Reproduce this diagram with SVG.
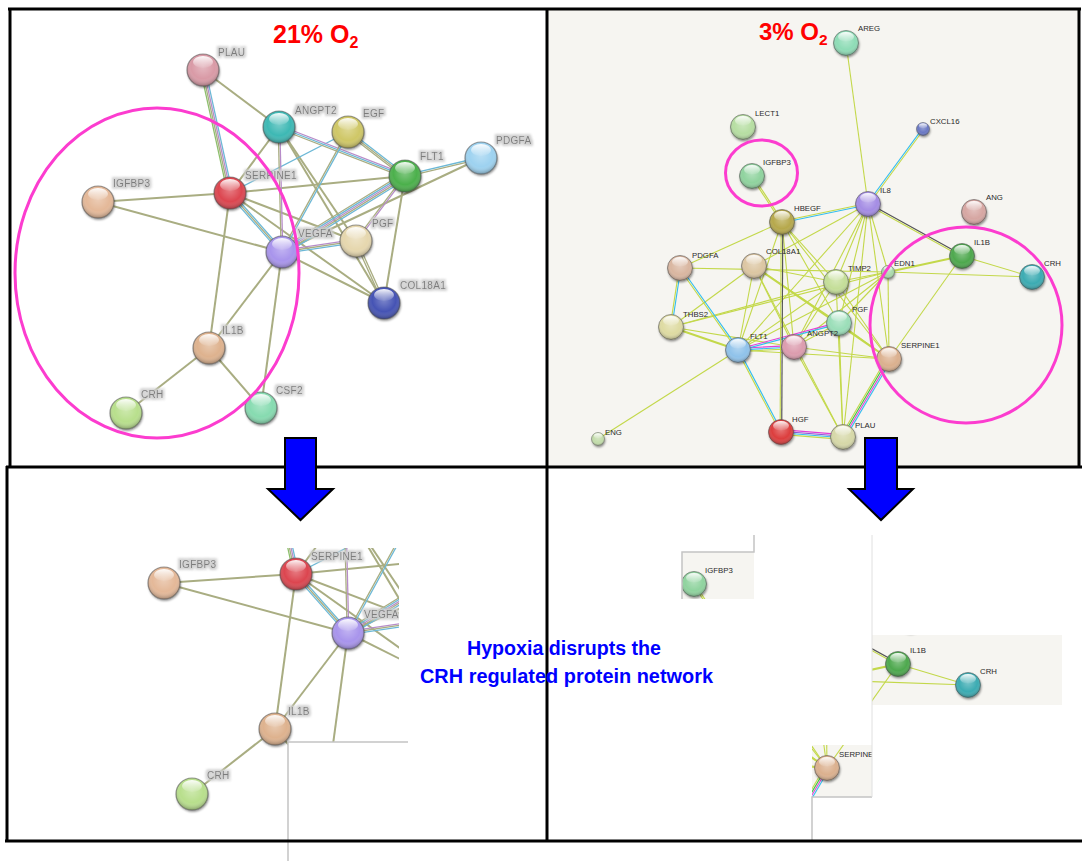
<svg xmlns="http://www.w3.org/2000/svg" xmlns:xlink="http://www.w3.org/1999/xlink" width="1082" height="861" viewBox="0 0 1082 861">
<style>
  .eo{stroke:#a9ad82;stroke-width:2;fill:none}
  .o{stroke:#a9ad82;stroke-width:1.3}
  .b{stroke:#6cb8d6;stroke-width:1.3}
  .p{stroke:#b78cc9;stroke-width:1.3}
  .g{stroke:#8dbf6c;stroke-width:1.3}
  .ry{stroke:#c3d84a;stroke-width:1.1;fill:none}
  .y{stroke:#c3d84a;stroke-width:1.1}
  .rb{stroke:#33bdf0;stroke-width:1.1}
  .rp{stroke:#e23ed8;stroke-width:1.1}
  .rv{stroke:#8e52d6;stroke-width:1.1}
  .rg{stroke:#3cc43c;stroke-width:1.1}
  .rk{stroke:#555;stroke-width:1.2}
  .ball{filter:url(#sh)}
  .ll{font-family:"Liberation Sans",Arial,sans-serif;font-size:10px;fill:#7c7c7c;letter-spacing:0.3px;filter:url(#halo)}
  .rl{font-family:"Liberation Sans",Arial,sans-serif;font-size:7.8px;fill:#2a2a2a}
  .ring{fill:none;stroke:#fc3ccf;stroke-width:3}
  .frame{stroke:#000;stroke-width:3;fill:none}
  .title{font-family:"Liberation Sans",Arial,sans-serif;font-weight:bold;fill:#ff0000}
  .msg{font-family:"Liberation Sans",Arial,sans-serif;font-weight:bold;font-size:20px;fill:#0000ff}
  .arrow{fill:#0000ff;stroke:#000;stroke-width:2}
  .crop{stroke:#c4c4c4;stroke-width:1.5;fill:none}
</style>
<defs>
  <filter id="sh" x="-40%" y="-40%" width="180%" height="180%">
    <feDropShadow dx="0.8" dy="1.8" stdDeviation="1.2" flood-color="#000" flood-opacity="0.45"/>
  </filter>
  <filter id="halo" x="-15%" y="-60%" width="130%" height="220%">
    <feMorphology in="SourceAlpha" operator="dilate" radius="1.6" result="d"/>
    <feGaussianBlur in="d" stdDeviation="1.3" result="bl"/>
    <feFlood flood-color="#cfcfcf"/>
    <feComposite in2="bl" operator="in" result="gl"/>
    <feMerge><feMergeNode in="gl"/><feMergeNode in="SourceGraphic"/></feMerge>
  </filter>
  <radialGradient id="shade" cx="0.5" cy="0.4" r="0.62">
    <stop offset="0" stop-color="#fff" stop-opacity="0.3"/>
    <stop offset="0.6" stop-color="#fff" stop-opacity="0"/>
    <stop offset="1" stop-color="#000" stop-opacity="0.35"/>
  </radialGradient>
  <linearGradient id="hi" x1="0" y1="0" x2="0" y2="1">
    <stop offset="0" stop-color="#fff" stop-opacity="0.95"/>
    <stop offset="1" stop-color="#fff" stop-opacity="0.05"/>
  </linearGradient>
  <!-- glossy sphere overlays -->
  <g id="g16"><circle r="16" fill="url(#shade)" stroke="#4a4a4a" stroke-opacity="0.55" stroke-width="1.2"/><ellipse cy="-8" rx="10" ry="6" fill="url(#hi)"/></g>
  <g id="g13"><circle r="12.5" fill="url(#shade)" stroke="#4a4a4a" stroke-opacity="0.55" stroke-width="1"/><ellipse cy="-6.2" rx="8" ry="4.8" fill="url(#hi)"/></g>
  <g id="g7"><circle r="6.5" fill="url(#shade)" stroke="#4a4a4a" stroke-opacity="0.55" stroke-width="0.8"/><ellipse cy="-3.2" rx="4.2" ry="2.5" fill="url(#hi)"/></g>
  <clipPath id="clipBL"><path d="M10,548 H399 V742 H288 V840 H10 Z"/></clipPath>
  <clipPath id="clipR1"><rect x="682" y="552" width="72" height="47"/></clipPath>
  <clipPath id="clipR2"><rect x="872" y="635" width="190" height="70"/></clipPath>
  <clipPath id="clipR3"><rect x="812" y="745" width="60" height="52"/></clipPath>
</defs>

<rect width="1082" height="861" fill="#fff"/>
<!-- hypoxic panel background -->
<rect x="548" y="9" width="531" height="458" fill="#f6f5f1"/>

<!-- ===== normoxia network ===== -->
<g id="netL">
  <g id="edgesL">
    <line class="eo" x1="203" y1="70" x2="279" y2="127"/>
    <line class="eo" x1="279" y1="127" x2="230" y2="193"/>
    <line class="eo" x1="279" y1="127" x2="356" y2="241"/>
    <line class="eo" x1="279" y1="127" x2="384" y2="303"/>
    <line class="eo" x1="230" y1="193" x2="405" y2="176"/>
    <line class="eo" x1="230" y1="193" x2="98" y2="202"/>
    <line class="eo" x1="230" y1="193" x2="209" y2="348"/>
    <line class="eo" x1="230" y1="193" x2="356" y2="241"/>
    <line class="eo" x1="230" y1="193" x2="384" y2="303"/>
    <line class="eo" x1="98" y1="202" x2="282" y2="252"/>
    <line class="eo" x1="282" y1="252" x2="384" y2="303"/>
    <line class="eo" x1="282" y1="252" x2="209" y2="348"/>
    <line class="eo" x1="282" y1="252" x2="261" y2="408"/>
    <line class="eo" x1="209" y1="348" x2="126" y2="413"/>
    <line class="eo" x1="209" y1="348" x2="261" y2="408"/>
    <line class="eo" x1="405" y1="176" x2="384" y2="303"/>
    <line class="eo" x1="481" y1="158" x2="282" y2="252"/>
    <line class="b" x1="348" y1="132" x2="230" y2="193"/>
    <!-- multi-evidence bundles -->
    <g transform="translate(203 70) rotate(77.62)"><line class="b" x2="126" y1="-2.4" y2="-2.4"/><line class="p" x2="126" y1="-0.8" y2="-0.8"/><line class="o" x2="126" y1="0.8" y2="0.8"/><line class="g" x2="126" y1="2.4" y2="2.4"/></g>
    <g transform="translate(279 127) rotate(21.25)"><line class="p" x2="135" y1="-1.6" y2="-1.6"/><line class="b" x2="135"/><line class="o" x2="135" y1="1.6" y2="1.6"/></g>
    <g transform="translate(279 127) rotate(88.63)"><line class="p" x2="125" y1="-0.8" y2="-0.8"/><line class="o" x2="125" y1="0.8" y2="0.8"/></g>
    <g transform="translate(348 132) rotate(37.67)"><line class="b" x2="72" y1="-1.6" y2="-1.6"/><line class="o" x2="72"/><line class="o" x2="72" y1="1.6" y2="1.6"/></g>
    <g transform="translate(405 176) rotate(148.3)"><line class="b" x2="145" y1="-3.2" y2="-3.2"/><line class="o" x2="145" y1="-1.6" y2="-1.6"/><line class="p" x2="145"/><line class="b" x2="145" y1="1.6" y2="1.6"/><line class="o" x2="145" y1="3.2" y2="3.2"/></g>
    <g transform="translate(405 176) rotate(-13.32)"><line class="b" x2="78" y1="-0.8" y2="-0.8"/><line class="o" x2="78" y1="0.8" y2="0.8"/></g>
    <g transform="translate(230 193) rotate(48.6)"><line class="b" x2="79" y1="-1.6" y2="-1.6"/><line class="o" x2="79"/><line class="b" x2="79" y1="1.6" y2="1.6"/></g>
    <g transform="translate(282 252) rotate(-8.45)"><line class="p" x2="75" y1="-1.6" y2="-1.6"/><line class="o" x2="75"/><line class="b" x2="75" y1="1.6" y2="1.6"/></g>
    <g transform="translate(405 176) rotate(127)"><line class="p" x2="81" y1="-0.8" y2="-0.8"/><line class="o" x2="81" y1="0.8" y2="0.8"/></g>
    <g transform="translate(356 241) rotate(65.7)"><line class="o" x2="68" y1="-1" y2="-1"/><line class="o" x2="68" y1="1" y2="1"/></g>
    <g transform="translate(348 132) rotate(118.8)"><line class="b" x2="137" y1="-0.8" y2="-0.8"/><line class="o" x2="137" y1="0.8" y2="0.8"/></g>
  </g>
  <g id="nodesL">
    <g id="nL-PLAU"><circle class="ball" cx="203" cy="70" r="16" fill="#d99aa6"/><use href="#g16" x="203" y="70"/><text class="ll" x="218" y="56">PLAU</text></g>
    <g id="nL-ANGPT2"><circle class="ball" cx="279" cy="127" r="16" fill="#3db8b4"/><use href="#g16" x="279" y="127"/><text class="ll" x="295" y="114">ANGPT2</text></g>
    <g id="nL-EGF"><circle class="ball" cx="348" cy="132" r="16" fill="#cfc766"/><use href="#g16" x="348" y="132"/><text class="ll" x="363" y="117">EGF</text></g>
    <g id="nL-PDGFA"><circle class="ball" cx="481" cy="158" r="16" fill="#9dd2f0"/><use href="#g16" x="481" y="158"/><text class="ll" x="496" y="144">PDGFA</text></g>
    <g id="nL-FLT1"><circle class="ball" cx="405" cy="176" r="16" fill="#4cb04c"/><use href="#g16" x="405" y="176"/><text class="ll" x="420" y="160">FLT1</text></g>
    <g id="nL-SERPINE1"><circle class="ball" cx="230" cy="193" r="16" fill="#dc4450"/><use href="#g16" x="230" y="193"/><text class="ll" x="245" y="179">SERPINE1</text></g>
    <g id="nL-IGFBP3"><circle class="ball" cx="98" cy="202" r="16" fill="#e4b898"/><use href="#g16" x="98" y="202"/><text class="ll" x="113" y="187">IGFBP3</text></g>
    <g id="nL-VEGFA"><circle class="ball" cx="282" cy="252" r="16" fill="#a894ec"/><use href="#g16" x="282" y="252"/><text class="ll" x="298" y="237">VEGFA</text></g>
    <g id="nL-PGF"><circle class="ball" cx="356" cy="241" r="16" fill="#e6d7ae"/><use href="#g16" x="356" y="241"/><text class="ll" x="372" y="227">PGF</text></g>
    <g id="nL-COL18A1"><circle class="ball" cx="384" cy="303" r="16" fill="#4453b4"/><use href="#g16" x="384" y="303"/><text class="ll" x="400" y="289">COL18A1</text></g>
    <g id="nL-IL1B"><circle class="ball" cx="209" cy="348" r="16" fill="#deb28e"/><use href="#g16" x="209" y="348"/><text class="ll" x="222" y="334">IL1B</text></g>
    <g id="nL-CRH"><circle class="ball" cx="126" cy="413" r="16" fill="#b8df8c"/><use href="#g16" x="126" y="413"/><text class="ll" x="141" y="398">CRH</text></g>
    <g id="nL-CSF2"><circle class="ball" cx="261" cy="408" r="16" fill="#86dbb0"/><use href="#g16" x="261" y="408"/><text class="ll" x="276" y="394">CSF2</text></g>
  </g>
</g>

<!-- ===== hypoxia network ===== -->
<g id="netR">
  <g id="edgesR">
    <line class="y" x1="846" y1="43" x2="868" y2="204"/>
    <line class="y" x1="868" y1="204" x2="836" y2="282"/>
    <line class="y" x1="868" y1="204" x2="839" y2="323"/>
    <line class="y" x1="868" y1="204" x2="794" y2="347"/>
    <line class="y" x1="868" y1="204" x2="738" y2="350"/>
    <line class="y" x1="868" y1="204" x2="889" y2="359"/>
    <line class="y" x1="868" y1="204" x2="888" y2="272"/>
    <line class="y" x1="868" y1="204" x2="843" y2="437"/>
    <line class="y" x1="868" y1="204" x2="754" y2="266"/>
    <line class="y" x1="782" y1="222" x2="680" y2="268"/>
    <line class="y" x1="782" y1="222" x2="836" y2="282"/>
    <line class="y" x1="782" y1="222" x2="839" y2="323"/>
    <line class="y" x1="782" y1="222" x2="794" y2="347"/>
    <line class="y" x1="782" y1="222" x2="738" y2="350"/>
    <line class="y" x1="782" y1="222" x2="889" y2="359"/>
    <line class="y" x1="680" y1="268" x2="888" y2="272"/>
    <line class="y" x1="754" y1="266" x2="836" y2="282"/>
    <line class="y" x1="754" y1="266" x2="738" y2="350"/>
    <line class="y" x1="754" y1="266" x2="794" y2="347"/>
    <line class="y" x1="754" y1="266" x2="839" y2="323"/>
    <line class="y" x1="754" y1="266" x2="889" y2="359" style="stroke-width:2"/>
    <line class="y" x1="754" y1="266" x2="671" y2="327"/>
    <line class="y" x1="754" y1="266" x2="843" y2="437"/>
    <line class="y" x1="836" y1="282" x2="888" y2="272"/>
    <line class="y" x1="836" y1="282" x2="738" y2="350"/>
    <line class="y" x1="836" y1="282" x2="794" y2="347"/>
    <line class="y" x1="836" y1="282" x2="671" y2="327"/>
    <line class="y" x1="836" y1="282" x2="889" y2="359"/>
    <line class="y" x1="836" y1="282" x2="843" y2="437"/>
    <line class="y" x1="888" y1="272" x2="962" y2="256" style="stroke-width:2"/>
    <line class="y" x1="888" y1="272" x2="1032" y2="277"/>
    <line class="y" x1="888" y1="272" x2="889" y2="359"/>
    <line class="y" x1="888" y1="272" x2="738" y2="350"/>
    <line class="y" x1="888" y1="272" x2="794" y2="347"/>
    <line class="y" x1="888" y1="272" x2="839" y2="323"/>
    <line class="y" x1="888" y1="272" x2="671" y2="327"/>
    <line class="y" x1="962" y1="256" x2="1032" y2="277"/>
    <line class="y" x1="962" y1="256" x2="889" y2="359"/>
    <line class="y" x1="839" y1="323" x2="889" y2="359"/>
    <line class="y" x1="839" y1="323" x2="843" y2="437"/>
    <line class="y" x1="839" y1="323" x2="794" y2="347"/>
    <line class="y" x1="794" y1="347" x2="889" y2="359"/>
    <line class="y" x1="794" y1="347" x2="843" y2="437"/>
    <line class="y" x1="738" y1="350" x2="889" y2="359"/>
    <line class="y" x1="738" y1="350" x2="598" y2="439"/>
    <line class="y" x1="738" y1="350" x2="671" y2="327" style="stroke-width:2"/>
    <line class="y" x1="671" y1="327" x2="794" y2="347"/>
    <!-- multi-evidence bundles -->
    <g transform="translate(889 359) rotate(120.5)"><line class="rb" x2="91" y1="-2.4" y2="-2.4"/><line class="rp" x2="91" y1="-0.8" y2="-0.8"/><line class="rg" x2="91" y1="0.8" y2="0.8"/><line class="y" x2="91" y1="2.4" y2="2.4"/></g>
    <g transform="translate(781 432) rotate(4.6)"><line class="rp" x2="62" y1="-2.4" y2="-2.4"/><line class="rv" x2="62" y1="-0.8" y2="-0.8"/><line class="rb" x2="62" y1="0.8" y2="0.8"/><line class="y" x2="62" y1="2.4" y2="2.4"/></g>
    <g transform="translate(738 350) rotate(-3.07)"><line class="rp" x2="56" y1="-1.6" y2="-1.6"/><line class="rb" x2="56"/><line class="y" x2="56" y1="1.6" y2="1.6"/></g>
    <g transform="translate(738 350) rotate(-14.97)"><line class="rp" x2="105" y1="-0.8" y2="-0.8"/><line class="rb" x2="105" y1="0.8" y2="0.8"/></g>
    <g transform="translate(738 350) rotate(62.3)"><line class="rb" x2="93" y1="-0.8" y2="-0.8"/><line class="y" x2="93" y1="0.8" y2="0.8"/></g>
    <g transform="translate(680 268) rotate(54.7)"><line class="rb" x2="100" y1="-0.8" y2="-0.8"/><line class="y" x2="100" y1="0.8" y2="0.8"/></g>
    <g transform="translate(680 268) rotate(98.7)"><line class="rb" x2="60" y1="-0.8" y2="-0.8"/><line class="y" x2="60" y1="0.8" y2="0.8"/></g>
    <g transform="translate(782 222) rotate(90.3)"><line class="rk" x2="210" y1="-0.8" y2="-0.8"/><line class="y" x2="210" y1="0.8" y2="0.8"/></g>
    <g transform="translate(868 204) rotate(168.2)"><line class="rb" x2="88" y1="-0.8" y2="-0.8"/><line class="y" x2="88" y1="0.8" y2="0.8"/></g>
    <g transform="translate(868 204) rotate(28.95)"><line class="rk" x2="107" y1="-0.8" y2="-0.8"/><line class="y" x2="107" y1="0.8" y2="0.8"/></g>
    <g transform="translate(868 204) rotate(-53.7)"><line class="rb" x2="93" y1="-0.8" y2="-0.8"/><line class="y" x2="93" y1="0.8" y2="0.8"/></g>
    <g transform="translate(752 176) rotate(56.9)"><line class="y" x2="55" y1="-0.8" y2="-0.8"/><line class="y" x2="55" y1="0.8" y2="0.8"/></g>
  </g>
  <g id="nodesR">
    <g id="nR-AREG"><circle class="ball" cx="846" cy="43" r="12.5" fill="#8edcb6"/><use href="#g13" x="846" y="43"/><text class="rl" x="858" y="31">AREG</text></g>
    <g id="nR-LECT1"><circle class="ball" cx="743" cy="127" r="12.5" fill="#b6dea2"/><use href="#g13" x="743" y="127"/><text class="rl" x="755" y="116">LECT1</text></g>
    <g id="nR-IGFBP3"><circle class="ball" cx="752" cy="176" r="12.5" fill="#8fd39e"/><use href="#g13" x="752" y="176"/><text class="rl" x="763" y="165">IGFBP3</text></g>
    <g id="nR-CXCL16"><circle class="ball" cx="923" cy="129" r="6.5" fill="#6a78c4"/><use href="#g7" x="923" y="129"/><text class="rl" x="930" y="124">CXCL16</text></g>
    <g id="nR-IL8"><circle class="ball" cx="868" cy="204" r="12.5" fill="#a48ce4"/><use href="#g13" x="868" y="204"/><text class="rl" x="880" y="193">IL8</text></g>
    <g id="nR-ANG"><circle class="ball" cx="974" cy="212" r="12.5" fill="#d6a6a2"/><use href="#g13" x="974" y="212"/><text class="rl" x="986" y="200">ANG</text></g>
    <g id="nR-HBEGF"><circle class="ball" cx="782" cy="222" r="12.5" fill="#b6a84c"/><use href="#g13" x="782" y="222"/><text class="rl" x="794" y="211">HBEGF</text></g>
    <g id="nR-IL1B"><circle class="ball" cx="962" cy="256" r="12.5" fill="#4ea84e"/><use href="#g13" x="962" y="256"/><text class="rl" x="974" y="245">IL1B</text></g>
    <g id="nR-CRH"><circle class="ball" cx="1032" cy="277" r="12.5" fill="#3aabb2"/><use href="#g13" x="1032" y="277"/><text class="rl" x="1044" y="266">CRH</text></g>
    <g id="nR-PDGFA"><circle class="ball" cx="680" cy="268" r="12.5" fill="#d9b6a0"/><use href="#g13" x="680" y="268"/><text class="rl" x="692" y="258">PDGFA</text></g>
    <g id="nR-COL18A1"><circle class="ball" cx="754" cy="266" r="12.5" fill="#dcc6a2"/><use href="#g13" x="754" y="266"/><text class="rl" x="766" y="254">COL18A1</text></g>
    <g id="nR-TIMP2"><circle class="ball" cx="836" cy="282" r="12.5" fill="#c4de98"/><use href="#g13" x="836" y="282"/><text class="rl" x="848" y="271">TIMP2</text></g>
    <g id="nR-EDN1"><circle class="ball" cx="888" cy="272" r="6.5" fill="#a9d9ab"/><use href="#g7" x="888" y="272"/><text class="rl" x="894" y="266">EDN1</text></g>
    <g id="nR-THBS2"><circle class="ball" cx="671" cy="327" r="12.5" fill="#dedba2"/><use href="#g13" x="671" y="327"/><text class="rl" x="683" y="317">THBS2</text></g>
    <g id="nR-PGF"><circle class="ball" cx="839" cy="323" r="12.5" fill="#9adeb8"/><use href="#g13" x="839" y="323"/><text class="rl" x="852" y="312">PGF</text></g>
    <g id="nR-FLT1"><circle class="ball" cx="738" cy="350" r="12.5" fill="#8fc2ea"/><use href="#g13" x="738" y="350"/><text class="rl" x="750" y="339">FLT1</text></g>
    <g id="nR-ANGPT2"><circle class="ball" cx="794" cy="347" r="12.5" fill="#dc9cae"/><use href="#g13" x="794" y="347"/><text class="rl" x="807" y="336">ANGPT2</text></g>
    <g id="nR-SERPINE1"><circle class="ball" cx="889" cy="359" r="12.5" fill="#dbb08e"/><use href="#g13" x="889" y="359"/><text class="rl" x="901" y="348">SERPINE1</text></g>
    <g id="nR-HGF"><circle class="ball" cx="781" cy="432" r="12.5" fill="#dc3c3c"/><use href="#g13" x="781" y="432"/><text class="rl" x="792" y="422">HGF</text></g>
    <g id="nR-PLAU"><circle class="ball" cx="843" cy="437" r="12.5" fill="#d6d8a8"/><use href="#g13" x="843" y="437"/><text class="rl" x="855" y="428">PLAU</text></g>
    <g id="nR-ENG"><circle class="ball" cx="598" cy="439" r="6.5" fill="#c2dcaa"/><use href="#g7" x="598" y="439"/><text class="rl" x="605" y="435">ENG</text></g>
  </g>
</g>

<!-- highlighted CRH-related regions -->
<g id="rings">
  <ellipse class="ring" cx="157" cy="273" rx="142" ry="165"/>
  <ellipse class="ring" cx="761.5" cy="173" rx="36" ry="33"/>
  <ellipse class="ring" cx="966" cy="325" rx="96" ry="98"/>
</g>

<!-- titles -->
<text class="title" x="273" y="43" font-size="25">21% O<tspan font-size="16" y="48">2</tspan></text>
<text class="title" x="759" y="40" font-size="24">3% O<tspan font-size="15.5" y="45">2</tspan></text>

<!-- lower left: retained sub-network -->
<g id="subL" clip-path="url(#clipBL)"><use href="#netL" transform="translate(66,381)"/></g>
<path class="crop" d="M408,742 H288 V861"/>

<!-- lower right: scattered fragments -->
<g id="subR">
  <rect x="682" y="552" width="72" height="47" fill="#f6f5f1"/>
  <rect x="872" y="635" width="190" height="70" fill="#f6f5f1"/>
  <rect x="812" y="745" width="60" height="52" fill="#f6f5f1"/>
  <g clip-path="url(#clipR1)"><use href="#netR" transform="translate(-58,408)"/></g>
  <g clip-path="url(#clipR2)"><use href="#netR" transform="translate(-64,408)"/></g>
  <g clip-path="url(#clipR3)"><use href="#netR" transform="translate(-62,409)"/></g>
  <path class="crop" d="M754,535 V552 H682 V599"/>
  <path class="crop" d="M872,797 H812 V840"/>
  <path d="M872,535 V797" stroke="#e0e0e0" stroke-width="1"/>
</g>

<!-- panel frame -->
<g id="frame">
  <path class="frame" d="M8,9 H1081"/>
  <path class="frame" d="M10,8 V467"/>
  <path class="frame" d="M547,8 V842"/>
  <path class="frame" d="M1079,8 V467"/>
  <path class="frame" d="M6,467 H1082"/>
  <path class="frame" d="M7,466 V842"/>
  <path class="frame" d="M5,841 H1082"/>
</g>

<!-- arrows -->
<polygon class="arrow" points="285,438 316,438 316,489 333,489 300.5,520 268,489 285,489"/>
<polygon class="arrow" points="865,438 897,438 897,489 913,489 881,520 849,489 865,489"/>

<!-- message -->
<text class="msg" x="467" y="655" textLength="194" lengthAdjust="spacingAndGlyphs">Hypoxia disrupts the</text>
<text class="msg" x="420" y="683" textLength="293" lengthAdjust="spacingAndGlyphs">CRH regulated protein network</text>
</svg>
